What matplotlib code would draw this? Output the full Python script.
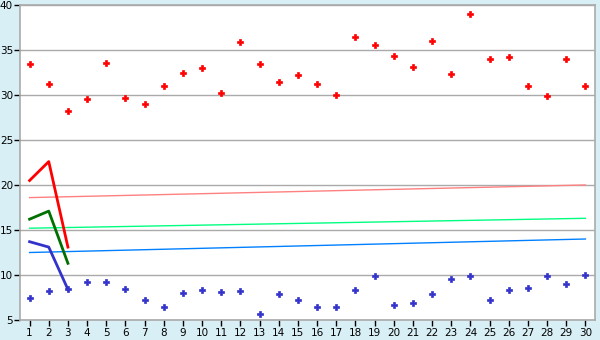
import numpy as np
import matplotlib
matplotlib.use("Agg")
import matplotlib.pyplot as plt

# Data ------------------------------------------------------------------
categories = [str(i) for i in range(1, 31)]

red_points = [33.4, 31.2, 28.2, 29.6, 33.6, 29.7, 29.0, 31.0, 32.5, 33.0,
              30.2, 35.9, 33.5, 31.5, 32.2, 31.2, 30.0, 36.4, 35.6, 34.3,
              33.1, 36.0, 32.3, 39.0, 34.0, 34.2, 31.0, 29.9, 34.0, 31.0]

blue_points = [7.5, 8.2, 8.4, 9.2, 9.2, 8.5, 7.2, 6.5, 8.0, 8.3,
               8.1, 8.2, 5.7, 7.9, 7.2, 6.4, 6.5, 8.3, 9.9, 6.7,
               6.9, 7.9, 9.6, 9.9, 7.2, 8.3, 8.6, 9.9, 9.0, 10.0]

red_line = [20.5, 22.6, 13.1]
green_line = [16.2, 17.1, 11.3]
blue_line = [13.7, 13.1, 8.4]

# trend lines: value at category 1 and category 30
trend_red = [18.6, 20.0]
trend_green = [15.2, 16.3]
trend_blue = [12.5, 14.0]

yticks = [5, 10, 15, 20, 25, 30, 35, 40]

# Plot ------------------------------------------------------------------
bg = "#D9EFF6"
fig = plt.figure(figsize=(6, 3.4), dpi=100, facecolor=bg)
ax = fig.add_axes([20 / 600, 1 - 320 / 340, 575 / 600, 315 / 340])
ax.set_facecolor("white")

x = np.arange(1, 31)

for v in yticks:
    ax.axhline(v, color="#AAAAAA", lw=1, zorder=1)

ax.plot([x[0], x[-1]], trend_red, color="#FF8080", lw=1, zorder=2)
ax.plot([x[0], x[-1]], trend_green, color="#00FF80", lw=1, zorder=2)
ax.plot([x[0], x[-1]], trend_blue, color="#0080FF", lw=1, zorder=2)

ax.plot(x[:3], red_line, color="#FF0000", lw=2, zorder=3)
ax.plot(x[:3], green_line, color="#007000", lw=2, zorder=3)
ax.plot(x[:3], blue_line, color="#3333CC", lw=2, zorder=3)

ax.plot(x, red_points, ls="none", marker="P", ms=4.5, color="#FF0000",
        mec="#FF0000", mew=0.5, zorder=4)
ax.plot(x, blue_points, ls="none", marker="P", ms=4.5, color="#3333CC",
        mec="#3333CC", mew=0.5, zorder=4)

ax.set_xlim(0.5, 30.5)
ax.set_ylim(5, 40)
ax.set_xticks(x)
ax.set_xticklabels(categories)
ax.set_yticks(yticks)

for s in ax.spines.values():
    s.set_color("#AAAAAA")
    s.set_linewidth(1.2)

ax.tick_params(axis="both", colors="black", labelsize=7.5, length=4,
               width=1, pad=1)
ax.tick_params(axis="x", color="black", pad=1.5)
ax.tick_params(axis="y", color="black")

fig.savefig("out.png", dpi=100, facecolor=bg)
